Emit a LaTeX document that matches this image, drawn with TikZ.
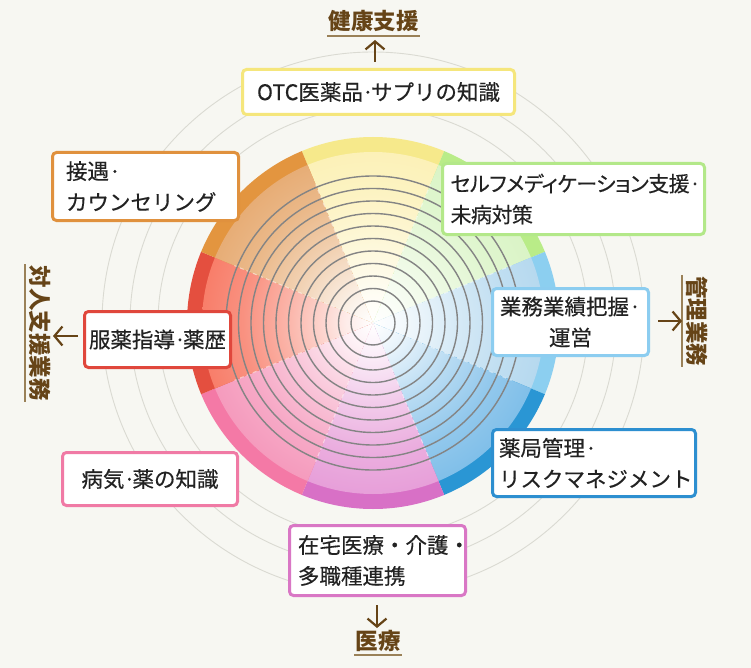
\documentclass[tikz,border=0pt]{standalone}
\usepackage{fontspec}
\newfontfamily\jpfont{Noto Sans CJK JP}
\newfontfamily\jpbox[FakeBold=0.35]{Noto Sans CJK JP}
\usetikzlibrary{arrows.meta}
\newcommand\md{\kern-1pt·\kern-3pt}
\definecolor{bg}{HTML}{F7F7F2}
\definecolor{txt}{HTML}{222222}
\definecolor{brn}{HTML}{664417}
\definecolor{ulc}{HTML}{9A8158}
\definecolor{ringc}{HTML}{848484}
\definecolor{faintc}{HTML}{DADAD2}
% outer band colours
\definecolor{yo}{HTML}{F6E98B}
\definecolor{go}{HTML}{B9EC88}
\definecolor{lo}{HTML}{8CCFF0}
\definecolor{do}{HTML}{2A96D4}
\definecolor{mo}{HTML}{D870C6}
\definecolor{po}{HTML}{F479A6}
\definecolor{ro}{HTML}{E44F3F}
\definecolor{oo}{HTML}{E3953F}
% inner sector colours
\definecolor{yi}{HTML}{FCF1B8}
\definecolor{gi}{HTML}{DAF4C6}
\definecolor{li}{HTML}{B6D9EF}
\definecolor{di}{HTML}{80BFE9}
\definecolor{mi}{HTML}{E79FD9}
\definecolor{pi}{HTML}{F59BBD}
\definecolor{ri}{HTML}{F87E6A}
\definecolor{oi}{HTML}{E7AD76}
% box border colours
\definecolor{yb}{HTML}{F5E67C}
\definecolor{gb}{HTML}{B3E889}
\definecolor{lb}{HTML}{8CCDF0}
\definecolor{db}{HTML}{2D8FD0}
\definecolor{mb}{HTML}{D977C5}
\definecolor{pb}{HTML}{F07AA5}
\definecolor{rb}{HTML}{E0473C}
\definecolor{ob}{HTML}{E0913E}
\colorlet{seccol}{red}
\pgfdeclareradialshading[seccol]{secshade}{\pgfpoint{0bp}{0bp}}{%
  color(0bp)=(white); color(4bp)=(seccol!15!white); color(12bp)=(seccol!55!white);
  color(19bp)=(seccol!85!white); color(25bp)=(seccol); color(50bp)=(seccol)}
\begin{document}
\begin{tikzpicture}[x=1pt,y=-1pt,
  box/.style={draw=#1, line width=3pt, fill=white, rounded corners=4pt,
    font=\jpbox\fontsize{21.5}{31}\selectfont, text=txt, inner ysep=0pt},
  axislabel/.style={font=\jpfont\bfseries\fontsize{22.5}{24}\selectfont, text=brn,
    inner sep=1pt, text height=19.5pt, text depth=3pt},
  uline/.style={draw=ulc, line width=1.5pt},
  arr/.style={draw=brn, line width=2.2pt, -{Straight Barb[length=8pt,width=19pt]}},
  ring/.style={draw=ringc, line width=1.4pt},
  faint/.style={draw=faintc, line width=0.9pt},
  dashline/.style={draw=white, line width=1pt, dash pattern=on 4pt off 3pt, opacity=0.55}]
\fill[bg] (0,0) rectangle (751,668);
\useasboundingbox (0,0) rectangle (751,668);
\coordinate (c) at (373,323);
% faint outer circles
\foreach \r in {215,243,271} \draw[faint] (c) circle (\r);
% sectors
\foreach \a/\ic/\oc in {247.5/yi/yo, 292.5/gi/go, 337.5/li/lo, 22.5/di/do,
                        67.5/mi/mo, 112.5/pi/po, 157.5/ri/ro, 202.5/oi/oo} {
  \begin{scope}
    \clip (c) -- ++(\a:200) arc[start angle=\a, end angle=\a+45, radius=200] -- cycle;
    \fill[\oc] (c) circle (186);
    \colorlet{seccol}{\ic}
    \shade[shading=secshade] (c) circle (171);
  \end{scope}
}
% dashed radial lines
\foreach \a in {22.5,67.5,...,337.5} \draw[dashline] (c) -- ++(\a:150);
% rings
\foreach \k in {0,...,10} \draw[ring] (c) circle ({22+12.5*\k});
% boxes
\node[box=yb, minimum width=272, minimum height=45, align=center] (otc) at (378.5,92)
  {OTC医薬品\md サプリの知識};
\node[box=ob, minimum height=68, text width=159, inner xsep=13.5pt, align=left] (sekku) at (145.5,186.5)
  {接遇·\\カウンセリング};
\node[box=gb, minimum height=71, text width=246, inner xsep=8pt, align=left] (self) at (573.5,199)
  {\fontsize{21}{31}\selectfont\addfontfeatures{RawFeature=+palt,LetterSpace=-2.5}セルフメディケーション支援·\\未病対策};
\node[box=lb, minimum height=67, text width=146, inner xsep=5pt, align=center] (gyomu) at (570.5,322)
  {業務業績把握·\\運営};
\node[box=rb, minimum width=146, minimum height=56, align=center] (fukuyaku) at (157.5,339.5)
  {服薬指導\md 薬歴};
\node[box=db, minimum height=67, text width=190, inner xsep=6.5pt, align=left] (kanriB) at (594,463)
  {薬局管理·\\リスクマネジメント};
\node[box=pb, minimum width=175, minimum height=53, align=center] (byoki) at (150,479)
  {病気\md 薬の知識};
\node[box=mb, minimum height=70, text width=159, inner xsep=8.5pt, align=left] (zaitaku) at (377.5,560.5)
  {在宅医療・介護・\\多職種連携};
% axis labels
\node[axislabel] (kenko) at (373.5,21.75) {健康支援};
\node[axislabel] (iryo) at (378,640.75) {医療};
\node[axislabel, rotate=-90] (taijin) at (39.25,333) {対人支援業務};
\node[axislabel, rotate=-90] (kanri) at (696.25,321) {管理業務};
\draw[uline] ([yshift=-2pt]kenko.south west) -- ([yshift=-2pt]kenko.south east);
\draw[uline] ([yshift=-2pt]iryo.south west) -- ([yshift=-2pt]iryo.south east);
\draw[uline] ([xshift=-2pt]taijin.south west) -- ([xshift=-2pt]taijin.south east);
\draw[uline] ([xshift=-2pt]kanri.south west) -- ([xshift=-2pt]kanri.south east);
% arrows
\coordinate (upS) at (375,62);   \coordinate (upE) at (375,40);
\coordinate (dnS) at (377,605);  \coordinate (dnE) at (377,628);
\coordinate (ltS) at (78,336);   \coordinate (ltE) at (53,336);
\coordinate (rtS) at (658,321);  \coordinate (rtE) at (682,321);
\draw[arr] (upS) -- (upE);
\draw[arr] (dnS) -- (dnE);
\draw[arr] (ltS) -- (ltE);
\draw[arr] (rtS) -- (rtE);
\end{tikzpicture}
\end{document}
